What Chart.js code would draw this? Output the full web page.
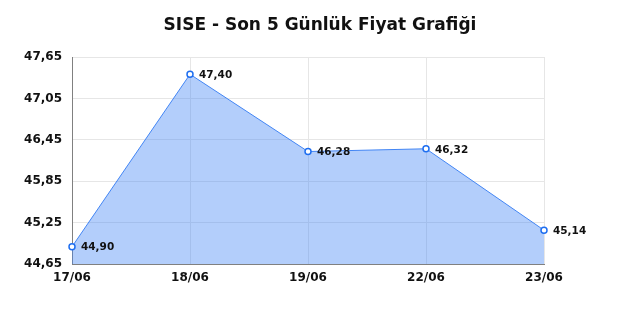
<!DOCTYPE html>
<html>
<head>
<meta charset="utf-8">
<script src="https://cdn.jsdelivr.net/npm/chart.js@4"></script>
<style>
  html, body { margin: 0; padding: 0; background: #fff; }
  #wrap { width: 640px; height: 320px; }
</style>
</head>
<body>
<div id="wrap"><canvas id="chart" width="640" height="320"></canvas></div>
<script>
const chartTitle = 'SISE - Son 5 Günlük Fiyat Grafiği';
const dates = ['17/06', '18/06', '19/06', '22/06', '23/06'];
const prices = [44.90, 47.40, 46.28, 46.32, 45.14];
const yMin = 44.65;
const yMax = 47.65;
const yStep = 0.60;

const fmt = v => Number(v).toFixed(2).replace('.', ',');

// title centred on the whole canvas, not on the plot
const titlePlugin = {
    id: 'centerTitle',
    afterDraw(chart) {
        const ctx = chart.ctx;
        ctx.save();
        ctx.font = 'bold 17px "DejaVu Sans"';
        ctx.fillStyle = '#111';
        ctx.textAlign = 'center';
        ctx.textBaseline = 'middle';
        ctx.fillText(chartTitle, chart.width / 2, 26);
        ctx.restore();
    }
};

// value labels to the right of each point
const labelPlugin = {
    id: 'pointLabels',
    afterDatasetsDraw(chart) {
        const ctx = chart.ctx;
        const meta = chart.getDatasetMeta(0);
        ctx.save();
        ctx.font = 'bold 10.5px "DejaVu Sans"';
        ctx.fillStyle = '#111';
        ctx.textAlign = 'left';
        ctx.textBaseline = 'middle';
        meta.data.forEach((pt, i) => {
            ctx.fillText(fmt(prices[i]), pt.x + 9, pt.y + 1);
        });
        ctx.restore();
    }
};

const ctx = document.getElementById('chart').getContext('2d');
new Chart(ctx, {
    type: 'line',
    data: {
        labels: dates,
        datasets: [{
            data: prices,
            borderColor: 'rgb(66, 133, 244)',
            backgroundColor: 'rgba(66, 133, 244, 0.4)',
            borderWidth: 1,
            fill: 'start',
            tension: 0,
            pointRadius: 3,
            pointBorderWidth: 1.5,
            pointBackgroundColor: '#fff',
            pointBorderColor: 'rgb(30, 110, 240)'
        }]
    },
    options: {
        responsive: false,
        animation: false,
        layout: {
            padding: { top: 57, left: 0, right: 96, bottom: 0 }
        },
        scales: {
            x: {
                grid: { color: '#e6e6e6', drawTicks: false },
                border: { color: '#808080', width: 1 },
                ticks: {
                    color: '#111',
                    padding: 7,
                    maxRotation: 0,
                    font: { family: 'DejaVu Sans', size: 12, weight: 'bold' }
                },
                afterFit(scale) { scale.height = 56; }
            },
            y: {
                min: yMin,
                max: yMax,
                grid: { color: '#e6e6e6', drawTicks: false },
                border: { color: '#808080', width: 1 },
                ticks: {
                    stepSize: yStep,
                    color: '#111',
                    padding: 10,
                    callback: v => fmt(v),
                    font: { family: 'DejaVu Sans', size: 12, weight: 'bold' }
                },
                afterFit(scale) { scale.width = 72; }
            }
        },
        plugins: {
            legend: { display: false },
            tooltip: { enabled: false },
            title: { display: false }
        }
    },
    plugins: [titlePlugin, labelPlugin]
});
</script>
</body>
</html>
